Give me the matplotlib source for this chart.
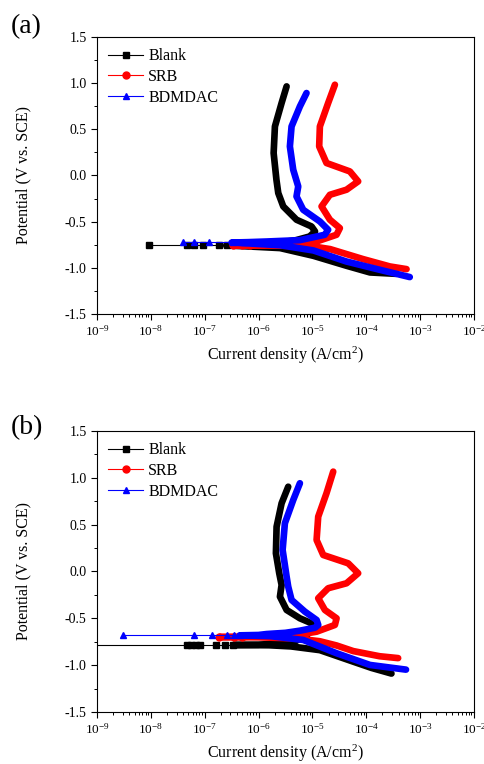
import matplotlib
matplotlib.use("Agg")
import matplotlib.pyplot as plt
import numpy as np
from matplotlib.lines import Line2D
from matplotlib.ticker import MultipleLocator, FormatStrFormatter, LogLocator

plt.rcParams['font.family'] = 'Liberation Serif'
plt.rcParams['mathtext.fontset'] = 'custom'
plt.rcParams['mathtext.rm'] = 'Liberation Serif'
plt.rcParams['mathtext.it'] = 'Liberation Serif:italic'
plt.rcParams['axes.unicode_minus'] = False

labels = ["Blank", "SRB", "BDMDAC"]
colors = ["black", "red", "blue"]
markers = ["s", "o", "^"]

# ---- panel (a) : potential (V) and log10 current density, cathodic end -> anodic end
a_blank_E = [-1.065, -1.05, -0.977, -0.87, -0.786, -0.768, -0.758, -0.752, -0.735, -0.70, -0.66, -0.606,
             -0.552, -0.479, -0.335, -0.19, -0.046, 0.243, 0.531, 0.785, 0.965]
a_blank_logi = [-3.44, -3.93, -4.37, -4.98, -5.6, -6.2, -6.6, -6.1, -5.7, -5.3, -5.05, -4.95,
                -5.015, -5.294, -5.54, -5.633, -5.667, -5.719, -5.695, -5.571, -5.478]
a_blank_sparse = [-8.03, -7.335, -7.19, -7.03, -6.73, -6.59]
a_blank_Ecorr = -0.758

a_srb_E = [-1.014, -0.985, -0.905, -0.797, -0.769, -0.76, -0.757, -0.752, -0.745, -0.733, -0.715, -0.642,
           -0.570, -0.479, -0.335, -0.209, -0.154, -0.064, 0.044, 0.135, 0.315, 0.531, 0.785, 0.983]
a_srb_logi = [-3.25, -3.56, -4.06, -4.67, -4.98, -5.6, -6.47, -6.0, -5.6, -5.294, -4.922, -4.551,
              -4.489, -4.674, -4.829, -4.674, -4.365, -4.149, -4.303, -4.737, -4.873, -4.86, -4.706, -4.581]
a_srb_sparse = [-6.47, -6.3, -6.15]
a_srb_Ecorr = -0.757

a_bdm_E = [-1.10, -1.021, -0.931, -0.812, -0.755, -0.735, -0.726, -0.722, -0.715, -0.70, -0.642, -0.588,
           -0.498, -0.371, -0.227, -0.119, 0.062, 0.315, 0.531, 0.748, 0.893]
a_bdm_logi = [-3.19, -3.75, -4.37, -4.98, -5.6, -6.2, -6.5, -6.2, -5.85, -5.23, -4.77, -4.706,
              -4.86, -5.17, -5.294, -5.262, -5.355, -5.417, -5.386, -5.231, -5.108]
a_bdm_sparse = [-7.41, -7.19, -6.92, -6.47, -6.27]
a_bdm_Ecorr = -0.725

# ---- panel (b)
b_blank_E = [-1.09, -1.03, -0.963, -0.84, -0.80, -0.788, -0.785, -0.782, -0.77, -0.74, -0.68, -0.60,
             -0.553, -0.50, -0.411, -0.269, -0.144, -0.019, 0.194, 0.478, 0.728, 0.905]
b_blank_logi = [-3.53, -3.9, -4.24, -4.86, -5.4, -5.8, -6.47, -6.0, -5.6, -5.3, -5.1, -5.0,
                -5.015, -5.231, -5.478, -5.602, -5.571, -5.615, -5.677, -5.664, -5.571, -5.448]
b_blank_sparse = [-9.5, -7.33, -7.25, -7.17, -7.09, -6.79, -6.62, -6.47]
b_blank_Ecorr = -0.785

b_srb_E = [-0.925, -0.905, -0.85, -0.79, -0.745, -0.715, -0.703, -0.70, -0.698, -0.69, -0.678, -0.643,
           -0.571, -0.500, -0.411, -0.286, -0.179, -0.126, -0.019, 0.087, 0.176, 0.336, 0.585, 0.835, 1.066]
b_srb_logi = [-3.406, -3.75, -4.24, -4.55, -4.86, -5.3, -6.0, -6.73, -6.3, -5.8, -5.29, -4.921,
              -4.581, -4.55, -4.767, -4.891, -4.706, -4.365, -4.149, -4.334, -4.798, -4.921, -4.891, -4.737, -4.612]
b_srb_sparse = [-6.73, -6.45, -6.3]
b_srb_Ecorr = -0.70

b_bdm_E = [-1.048, -0.998, -0.873, -0.731, -0.69, -0.682, -0.678, -0.668, -0.655, -0.632, -0.60,
           -0.571, -0.518, -0.429, -0.304, -0.162, -0.055, 0.230, 0.515, 0.763, 0.942]
b_bdm_logi = [-3.26, -3.93, -4.55, -5.17, -5.79, -6.35, -6.0, -5.85, -5.5, -5.23, -4.95,
              -4.89, -4.921, -5.138, -5.386, -5.448, -5.478, -5.552, -5.51, -5.355, -5.231]
b_bdm_sparse = [-8.52, -7.19, -6.87, -6.58, -6.45, -6.35]
b_bdm_Ecorr = -0.68

fig = plt.figure(figsize=(4.85, 7.64), dpi=100)
ax_a = fig.add_axes([0.2, 0.589, 0.777, 0.3626])
ax_b = fig.add_axes([0.2, 0.0681, 0.777, 0.3678])

panels = [
    (ax_a, "(a)", 0.965,
     [(a_blank_E, a_blank_logi, a_blank_sparse, a_blank_Ecorr),
      (a_srb_E, a_srb_logi, a_srb_sparse, a_srb_Ecorr),
      (a_bdm_E, a_bdm_logi, a_bdm_sparse, a_bdm_Ecorr)]),
    (ax_b, "(b)", 0.44,
     [(b_blank_E, b_blank_logi, b_blank_sparse, b_blank_Ecorr),
      (b_srb_E, b_srb_logi, b_srb_sparse, b_srb_Ecorr),
      (b_bdm_E, b_bdm_logi, b_bdm_sparse, b_bdm_Ecorr)]),
]

for ax, tag, ty, series in panels:
    handles = []
    for (E, logi, sparse, Ec), lab, c, m in zip(series, labels, colors, markers):
        ax.plot(10.0 ** np.array(sparse), [Ec] * len(sparse), color=c, lw=0.8,
                marker=m, ms=5, mec=c, mfc=c)
        ax.plot(10.0 ** np.array(logi), E, color=c, lw=4.8,
                solid_joinstyle='round', solid_capstyle='round')
        handles.append(Line2D([], [], color=c, lw=0.8, marker=m, ms=5))
    ax.set_xscale('log')
    ax.set_xlim(1e-9, 1e-2)
    ax.set_ylim(-1.5, 1.5)
    ax.yaxis.set_major_locator(MultipleLocator(0.5))
    ax.yaxis.set_minor_locator(MultipleLocator(0.25))
    ax.yaxis.set_major_formatter(FormatStrFormatter('%.1f'))
    ax.xaxis.set_major_locator(LogLocator(base=10, numticks=10))
    ax.xaxis.set_minor_locator(LogLocator(base=10, subs=np.arange(2, 10), numticks=20))
    ax.tick_params(axis='both', which='major', direction='out', length=4, width=0.8, labelsize=10)
    ax.tick_params(axis='x', which='major', labelsize=9.5)
    ax.tick_params(axis='both', which='minor', direction='out', length=2.5, width=0.7)
    for sp in ax.spines.values():
        sp.set_linewidth(0.8)
    ax.set_xlabel("Current density (A/cm$^2$)", fontsize=11.5)
    ax.set_ylabel("Potential (V vs. SCE)", fontsize=11.5, labelpad=24)
    ax.legend(handles, labels, loc='upper left', frameon=False, fontsize=11.5,
              handlelength=2.2, handletextpad=0.3, labelspacing=0.3, borderaxespad=0.3)
    fig.text(0.022, ty, tag, fontsize=20, va='center', ha='left')

fig.savefig("out.png", dpi=100)
